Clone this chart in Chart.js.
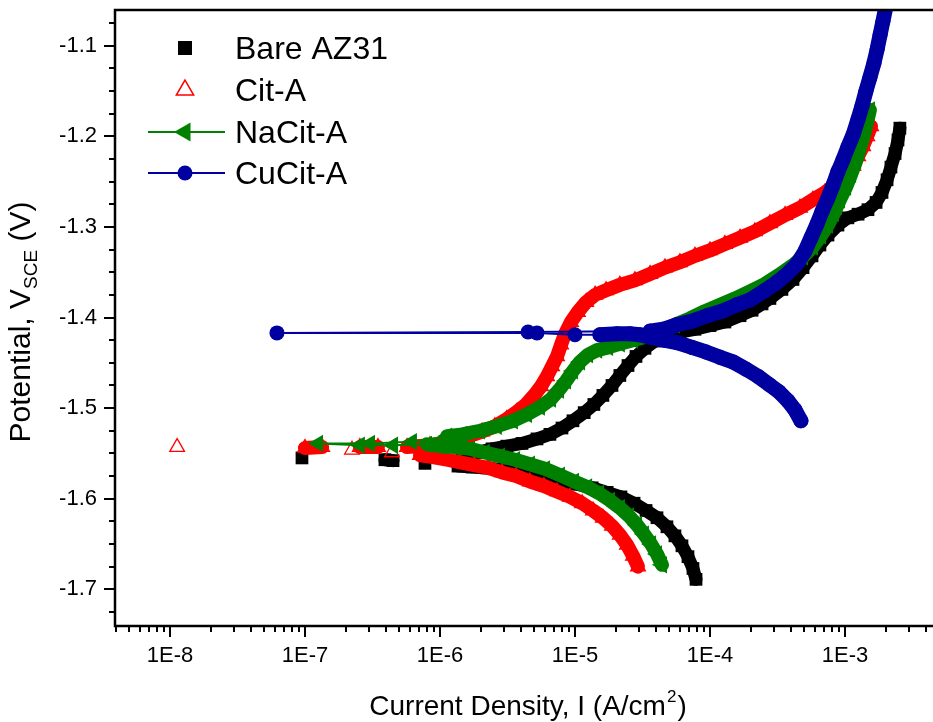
<!DOCTYPE html>
<html>
<head>
<meta charset="utf-8">
<script src="https://cdn.jsdelivr.net/npm/chart.js@4.4.1/dist/chart.umd.min.js"></script>
<style>
  html, body { margin: 0; padding: 0; background: #ffffff; }
  #wrap { width: 933px; height: 722px; position: relative; }
</style>
</head>
<body>
<div id="wrap"><canvas id="tafel" width="933" height="722"></canvas></div>
<script>
// Potentiodynamic polarisation curves: current density (A/cm^2) vs potential (V vs SCE),
// each series listed in sweep order (cathodic branch up to Ecorr, then anodic branch).

const bareI = [7.88e-5, 7.48e-5, 6.87e-5, 6.20e-5, 5.50e-5, 4.80e-5, 4.05e-5, 3.36e-5, 2.74e-5, 2.19e-5,
  1.73e-5, 1.34e-5, 1.03e-5, 8.01e-6, 6.20e-6, 4.80e-6, 3.72e-6, 2.88e-6, 2.23e-6, 1.73e-6, 1.36e-6,
  7.74e-7, 4.49e-7, 3.91e-7, 9.50e-8,
  1.46e-6, 1.88e-6, 2.43e-6, 3.13e-6, 4.05e-6, 5.23e-6, 6.52e-6, 8.01e-6, 9.66e-6, 1.17e-5,
  1.38e-5, 1.61e-5, 1.88e-5, 2.15e-5, 2.47e-5, 2.83e-5, 3.30e-5, 3.91e-5, 4.72e-5, 5.99e-5,
  7.74e-5, 1.00e-4, 1.29e-4, 1.67e-4, 2.05e-4, 2.43e-4, 2.78e-4, 3.41e-4, 4.12e-4, 4.89e-4,
  5.70e-4, 6.52e-4, 7.48e-4, 8.87e-4, 1.05e-3, 1.25e-3, 1.48e-3, 1.70e-3, 1.88e-3, 2.05e-3,
  2.19e-3, 2.35e-3, 2.47e-3, 2.55e-3];
const bareE = [-1.689, -1.677, -1.664, -1.652, -1.641, -1.631, -1.621, -1.613, -1.605, -1.598,
  -1.593, -1.588, -1.584, -1.581, -1.577, -1.574, -1.571, -1.568, -1.566, -1.565, -1.564,
  -1.561, -1.558, -1.557, -1.555,
  -1.552, -1.549, -1.545, -1.542, -1.539, -1.534, -1.529, -1.522, -1.514, -1.505,
  -1.496, -1.486, -1.475, -1.464, -1.453, -1.443, -1.434, -1.426, -1.421, -1.416,
  -1.413, -1.409, -1.405, -1.398, -1.392, -1.385, -1.379, -1.369, -1.358, -1.345,
  -1.332, -1.320, -1.309, -1.298, -1.290, -1.286, -1.281, -1.273, -1.262, -1.248,
  -1.234, -1.219, -1.204, -1.191];

const citI = [2.93e-5, 2.69e-5, 2.43e-5, 2.15e-5, 1.88e-5, 1.61e-5, 1.36e-5, 1.13e-5, 9.18e-6, 7.36e-6,
  5.89e-6, 4.64e-6, 3.66e-6, 2.88e-6, 2.27e-6, 1.79e-6, 1.41e-6, 1.13e-6, 8.87e-7, 7.11e-7,
  4.41e-7, 2.23e-7, 1.34e-7, 1.00e-7, 1.13e-8,
  2.55e-7, 3.47e-7, 5.70e-7,
  8.43e-7, 1.05e-6, 1.31e-6, 1.64e-6, 2.05e-6, 2.55e-6, 3.13e-6, 3.72e-6, 4.34e-6, 4.97e-6,
  5.60e-6, 6.20e-6, 6.76e-6, 7.36e-6, 7.88e-6, 8.43e-6, 9.34e-6, 1.05e-5, 1.21e-5, 1.41e-5,
  1.70e-5, 2.15e-5, 2.78e-5, 3.60e-5, 4.64e-5, 5.99e-5, 7.74e-5, 1.00e-4, 1.29e-4, 1.67e-4,
  2.15e-4, 2.78e-4, 3.60e-4, 4.64e-4, 5.79e-4, 7.11e-4, 8.58e-4, 1.02e-3, 1.15e-3, 1.25e-3,
  1.36e-3, 1.46e-3, 1.56e-3];
const citE = [-1.675, -1.663, -1.651, -1.640, -1.630, -1.621, -1.613, -1.605, -1.598, -1.592,
  -1.586, -1.581, -1.575, -1.571, -1.566, -1.563, -1.560, -1.557, -1.554, -1.552,
  -1.549, -1.546, -1.543, -1.544, -1.543,
  -1.543, -1.543, -1.543,
  -1.541, -1.539, -1.535, -1.531, -1.526, -1.520, -1.512, -1.504, -1.496, -1.486,
  -1.476, -1.465, -1.454, -1.443, -1.430, -1.418, -1.405, -1.394, -1.383, -1.375,
  -1.370, -1.364, -1.359, -1.352, -1.345, -1.339, -1.332, -1.326, -1.319, -1.312,
  -1.305, -1.296, -1.287, -1.279, -1.270, -1.262, -1.253, -1.244, -1.233, -1.222,
  -1.211, -1.200, -1.189];

const naCitI = [4.41e-5, 4.05e-5, 3.66e-5, 3.24e-5, 2.88e-5, 2.51e-5, 2.15e-5, 1.82e-5, 1.51e-5, 1.23e-5,
  9.83e-6, 7.74e-6, 5.99e-6, 4.64e-6, 3.60e-6, 2.78e-6, 2.15e-6, 1.67e-6, 1.29e-6, 1.00e-6,
  8.01e-7, 4.49e-7, 2.55e-7, 1.25e-7, 3.03e-7, 6.20e-7,
  1.13e-6, 1.46e-6, 1.98e-6, 2.64e-6, 3.47e-6, 4.41e-6, 5.50e-6, 6.64e-6, 7.61e-6, 8.58e-6,
  9.66e-6, 1.09e-5, 1.25e-5, 1.46e-5, 1.76e-5, 2.15e-5, 2.69e-5, 3.41e-5, 4.34e-5, 5.50e-5,
  7.11e-5, 9.18e-5, 1.19e-4, 1.53e-4, 1.98e-4, 2.55e-4, 3.24e-4, 4.05e-4, 4.89e-4, 5.79e-4,
  6.64e-4, 7.48e-4, 8.29e-4, 9.18e-4, 1.02e-3, 1.11e-3, 1.21e-3, 1.29e-3, 1.38e-3, 1.46e-3,
  1.53e-3];
const naCitE = [-1.673, -1.661, -1.650, -1.639, -1.629, -1.619, -1.610, -1.602, -1.594, -1.587,
  -1.581, -1.574, -1.567, -1.562, -1.557, -1.553, -1.549, -1.545, -1.543, -1.542,
  -1.540, -1.541, -1.541, -1.539, -1.539, -1.537,
  -1.531, -1.529, -1.525, -1.520, -1.514, -1.507, -1.499, -1.490, -1.480, -1.470,
  -1.459, -1.449, -1.441, -1.436, -1.433, -1.429, -1.425, -1.421, -1.415, -1.408,
  -1.401, -1.393, -1.386, -1.379, -1.371, -1.363, -1.353, -1.343, -1.333, -1.322,
  -1.310, -1.298, -1.285, -1.270, -1.256, -1.242, -1.227, -1.213, -1.199, -1.184,
  -1.171];

const cuCitI = [4.72e-4, 4.26e-4, 3.78e-4, 3.24e-4, 2.74e-4, 2.27e-4, 1.85e-4, 1.48e-4, 1.19e-4, 9.34e-5,
  7.36e-5, 5.79e-5, 4.56e-5, 3.66e-5, 3.03e-5,
  2.55e-5, 2.05e-5, 1.53e-5, 1.00e-5, 5.23e-6, 6.20e-8, 4.49e-6, 3.60e-5,
  4.49e-5, 5.70e-5, 7.36e-5, 9.50e-5, 1.23e-4, 1.58e-4, 2.01e-4, 2.51e-4, 3.08e-4, 3.72e-4,
  4.41e-4, 5.05e-4, 5.60e-4, 6.20e-4, 6.76e-4, 7.48e-4, 8.15e-4, 8.87e-4, 9.66e-4, 1.05e-3,
  1.15e-3, 1.25e-3, 1.34e-3, 1.43e-3, 1.53e-3, 1.64e-3, 1.73e-3, 1.82e-3, 1.91e-3, 2.01e-3,
  2.08e-3];
const cuCitE = [-1.514, -1.502, -1.492, -1.482, -1.474, -1.465, -1.457, -1.449, -1.444, -1.438,
  -1.433, -1.428, -1.425, -1.422, -1.419,
  -1.418, -1.418, -1.419, -1.419, -1.417, -1.417, -1.416, -1.415,
  -1.413, -1.408, -1.404, -1.398, -1.393, -1.386, -1.380, -1.371, -1.362, -1.352,
  -1.341, -1.327, -1.312, -1.297, -1.283, -1.268, -1.254, -1.239, -1.226, -1.212,
  -1.198, -1.181, -1.166, -1.150, -1.135, -1.119, -1.104, -1.088, -1.073, -1.057,
  -1.044];

const seriesNames = ['Bare AZ31', 'Cit-A', 'NaCit-A', 'CuCit-A'];

const xTickValues = [1e-8, 1e-7, 1e-6, 1e-5, 1e-4, 1e-3];
const xTickLabels = ['1E-8', '1E-7', '1E-6', '1E-5', '1E-4', '1E-3'];
const yTickValues = [-1.7, -1.6, -1.5, -1.4, -1.3, -1.2, -1.1];
const yTickLabels = ['-1.7', '-1.6', '-1.5', '-1.4', '-1.3', '-1.2', '-1.1'];

const X_MIN = 3.915e-9, X_MAX = 4.487e-3;
const Y_MIN = -1.7405, Y_MAX = -1.0606;

const FONT = '"Liberation Sans", Arial, Helvetica, sans-serif';
const COLORS = { bare: '#000000', cit: '#ff0000', naCit: '#008000', cuCit: '#0000a0' };

// Closely spaced readings form a solid band; wide jumps (near Ecorr) are left as
// isolated markers, joined by a thin line only for the line+symbol series.
const GAP_PX = 24;
const isGap = c => Math.hypot(c.p1.x - c.p0.x, c.p1.y - c.p0.y) > GAP_PX;

function makeSeries(label, I, E, o) {
  return {
    label,
    data: I.map((v, i) => ({ x: v, y: E[i] })),
    showLine: true,
    order: o.order,
    clip: 0,
    borderColor: o.color,
    borderWidth: o.band,
    borderCapStyle: 'round',
    borderJoinStyle: 'round',
    pointStyle: o.pointStyle,
    rotation: o.rotation || 0,
    pointRotation: o.rotation || 0,
    pointRadius: o.radius,
    pointBackgroundColor: o.fill,
    pointBorderColor: o.color,
    pointBorderWidth: o.pointBorder,
    segment: {
      borderColor: c => isGap(c) ? o.gapColor : o.color,
      borderWidth: c => isGap(c) ? 2 : o.band
    }
  };
}

const datasets = [
  makeSeries(seriesNames[0], bareI, bareE, { order: 4, color: COLORS.bare, band: 13, pointStyle: 'rect',
    radius: 9, fill: COLORS.bare, pointBorder: 0, gapColor: 'rgba(0,0,0,0)' }),
  makeSeries(seriesNames[1], citI, citE, { order: 3, color: COLORS.cit, band: 14, pointStyle: 'triangle',
    radius: 8.5, fill: 'rgba(255,255,255,0)', pointBorder: 1.3, gapColor: 'rgba(0,0,0,0)' }),
  makeSeries(seriesNames[2], naCitI, naCitE, { order: 2, color: COLORS.naCit, band: 14, pointStyle: 'triangle',
    rotation: -90, radius: 10, fill: COLORS.naCit, pointBorder: 0, gapColor: COLORS.naCit }),
  makeSeries(seriesNames[3], cuCitI, cuCitE, { order: 1, color: COLORS.cuCit, band: 15, pointStyle: 'circle',
    radius: 7.5, fill: COLORS.cuCit, pointBorder: 0, gapColor: COLORS.cuCit })
];

const whiteBg = {
  id: 'whiteBg',
  beforeDraw(chart) {
    const c = chart.ctx;
    c.save(); c.fillStyle = '#ffffff'; c.fillRect(0, 0, chart.width, chart.height); c.restore();
  }
};

// Axis frame with outward major/minor ticks.
const frame = {
  id: 'frame',
  afterDraw(chart) {
    const c = chart.ctx, a = chart.chartArea, xs = chart.scales.x, ys = chart.scales.y;
    c.save();
    c.strokeStyle = '#000'; c.lineWidth = 2.5; c.lineCap = 'butt';
    c.beginPath();
    c.moveTo(a.right + 2, a.top); c.lineTo(a.left, a.top);
    c.lineTo(a.left, a.bottom); c.lineTo(a.right + 2, a.bottom);
    c.stroke();

    c.lineWidth = 2;
    c.beginPath();
    yTickValues.forEach(v => {
      const p = Math.round(ys.getPixelForValue(v));
      c.moveTo(a.left - 11, p); c.lineTo(a.left, p);
    });
    for (let k = 0; k <= 40; k++) {
      const v = -1.75 + k * 0.025;
      const major = Math.abs(v * 10 - Math.round(v * 10)) < 1e-6;
      if (major || v < Y_MIN || v > Y_MAX) continue;
      const p = Math.round(ys.getPixelForValue(v));
      c.moveTo(a.left - 6, p); c.lineTo(a.left, p);
    }
    xTickValues.forEach(v => {
      const p = Math.round(xs.getPixelForValue(v));
      c.moveTo(p, a.bottom); c.lineTo(p, a.bottom + 11);
    });
    for (let e = -9; e <= -3; e++) {
      for (let m = 2; m <= 9; m++) {
        const v = m * Math.pow(10, e);
        if (v < X_MIN || v > X_MAX) continue;
        const p = Math.round(xs.getPixelForValue(v));
        c.moveTo(p, a.bottom); c.lineTo(p, a.bottom + 6);
      }
    }
    c.stroke();
    c.restore();
  }
};

// Axis titles with sub/superscripts.
const titles = {
  id: 'titles',
  afterDraw(chart) {
    const c = chart.ctx;
    c.save();
    c.fillStyle = '#000';
    c.textBaseline = 'alphabetic';
    const mainF = '28px ' + FONT, supF = '17px ' + FONT;
    const t1 = 'Current Density, I (A/cm', t2 = '2', t3 = ')';
    c.font = mainF; const w1 = c.measureText(t1).width, w3 = c.measureText(t3).width;
    c.font = supF; const w2 = c.measureText(t2).width;
    const x0 = 527 - (w1 + w2 + w3) / 2;
    const yb = 715;
    c.font = mainF; c.fillText(t1, x0, yb);
    c.font = supF; c.fillText(t2, x0 + w1 + 1, yb - 13);
    c.font = mainF; c.fillText(t3, x0 + w1 + w2 + 2, yb);

    const s1 = 'Potential, V', s2 = 'SCE', s3 = ' (V)';
    const yMain = '30px ' + FONT, ySub = '19px ' + FONT;
    c.font = yMain; const v1 = c.measureText(s1).width, v3 = c.measureText(s3).width;
    c.font = ySub; const v2 = c.measureText(s2).width;
    c.translate(30, 322);
    c.rotate(-Math.PI / 2);
    const s0 = -(v1 + v2 + v3) / 2;
    c.font = yMain; c.fillText(s1, s0, 0);
    c.font = ySub; c.fillText(s2, s0 + v1, 7);
    c.font = yMain; c.fillText(s3, s0 + v1 + v2, 0);
    c.restore();
  }
};

// Legend: symbol (with line for line+symbol series) and name.
const legendBox = {
  id: 'legendBox',
  afterDraw(chart) {
    const c = chart.ctx;
    const rows = [48, 90, 132, 173];
    const mx = 185, tx = 235;
    c.save();
    c.fillStyle = COLORS.bare;
    c.fillRect(mx - 7, rows[0] - 7, 14, 14);
    c.strokeStyle = COLORS.cit; c.lineWidth = 1.5;
    let r = 10;
    c.beginPath();
    c.moveTo(mx, rows[1] - r);
    c.lineTo(mx + Math.sin(2 * Math.PI / 3) * r, rows[1] - Math.cos(2 * Math.PI / 3) * r);
    c.lineTo(mx + Math.sin(4 * Math.PI / 3) * r, rows[1] - Math.cos(4 * Math.PI / 3) * r);
    c.closePath(); c.stroke();
    c.strokeStyle = COLORS.naCit; c.lineWidth = 2;
    c.beginPath(); c.moveTo(148, rows[2]); c.lineTo(225, rows[2]); c.stroke();
    c.fillStyle = COLORS.naCit; r = 11;
    c.beginPath();
    c.moveTo(mx - r, rows[2]);
    c.lineTo(mx + r / 2, rows[2] - r * 0.866);
    c.lineTo(mx + r / 2, rows[2] + r * 0.866);
    c.closePath(); c.fill();
    c.strokeStyle = COLORS.cuCit; c.lineWidth = 2;
    c.beginPath(); c.moveTo(148, rows[3]); c.lineTo(225, rows[3]); c.stroke();
    c.fillStyle = COLORS.cuCit;
    c.beginPath(); c.arc(mx, rows[3], 7.5, 0, Math.PI * 2); c.fill();

    c.fillStyle = '#000';
    c.font = '32px ' + FONT;
    c.textBaseline = 'alphabetic';
    seriesNames.forEach((n, i) => c.fillText(n, tx, rows[i] + 11));
    c.restore();
  }
};

// Tick labels sit well inside the frame, so no extra edge padding is reserved for them.
const noEdgePadding = s => { s.paddingTop = 0; s.paddingBottom = 0; s.paddingLeft = 0; s.paddingRight = 0; };

new Chart(document.getElementById('tafel'), {
  type: 'scatter',
  data: { datasets },
  options: {
    responsive: false,
    animation: false,
    events: [],
    devicePixelRatio: 1,
    layout: { autoPadding: false, padding: { top: 10, right: 0, bottom: 0, left: 0 } },
    plugins: { legend: { display: false }, tooltip: { enabled: false } },
    scales: {
      x: {
        type: 'logarithmic',
        min: X_MIN, max: X_MAX,
        border: { display: false },
        grid: { display: true, drawOnChartArea: false, drawTicks: true, tickLength: 11, color: 'rgba(0,0,0,0)' },
        afterBuildTicks: axis => { axis.ticks = xTickValues.map(v => ({ value: v })); },
        afterFit: s => { s.height = 96; noEdgePadding(s); },
        ticks: {
          autoSkip: false, maxRotation: 0, minRotation: 0, padding: 6,
          color: '#000', font: { family: FONT, size: 22 },
          callback: (v) => xTickLabels[xTickValues.findIndex(t => Math.abs(Math.log10(t) - Math.log10(v)) < 1e-6)]
        }
      },
      y: {
        type: 'linear',
        min: Y_MIN, max: Y_MAX,
        border: { display: false },
        grid: { display: true, drawOnChartArea: false, drawTicks: true, tickLength: 11, color: 'rgba(0,0,0,0)' },
        afterBuildTicks: axis => { axis.ticks = yTickValues.map(v => ({ value: v })); },
        afterFit: s => { s.width = 115; noEdgePadding(s); },
        ticks: {
          autoSkip: false, padding: 7,
          color: '#000', font: { family: FONT, size: 22 },
          callback: (v) => yTickLabels[yTickValues.findIndex(t => Math.abs(t - v) < 1e-6)]
        }
      }
    }
  },
  plugins: [whiteBg, frame, titles, legendBox]
});
</script>
</body>
</html>
